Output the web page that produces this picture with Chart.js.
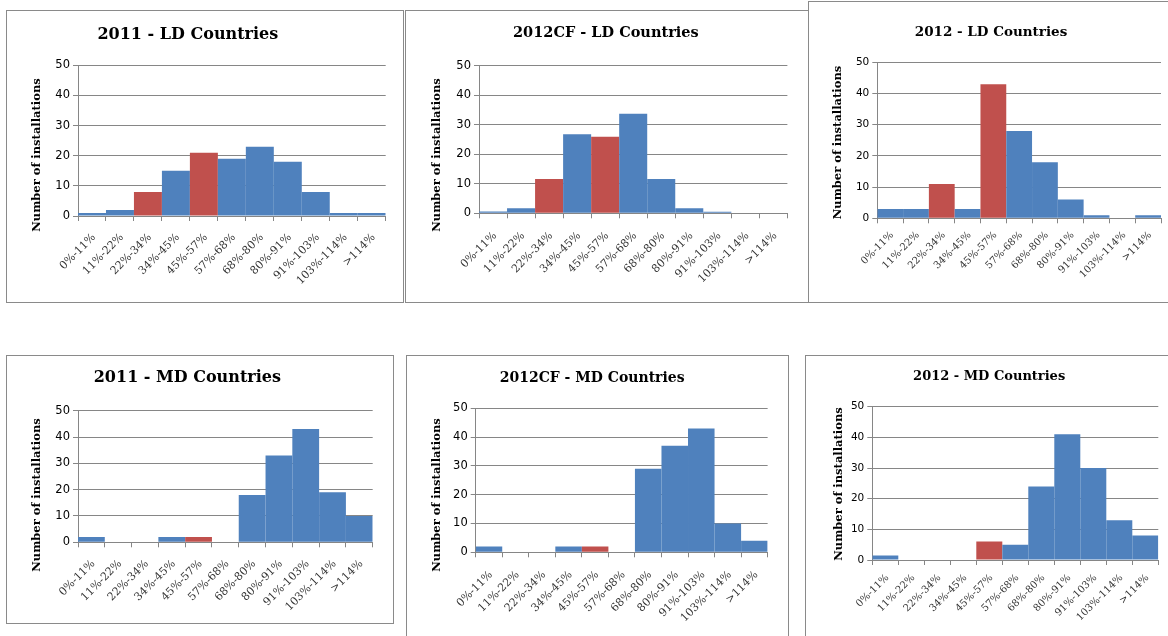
<!DOCTYPE html>
<html>
<head>
<meta charset="utf-8">
<script src="https://cdn.jsdelivr.net/npm/chart.js@4"></script>
<style>
  html, body { margin: 0; padding: 0; background: #ffffff; }
  body { position: relative; width: 1168px; height: 636px; overflow: hidden; }
  .frame { position: absolute; border: 1px solid #8a8a8a; box-sizing: border-box; }
  canvas { position: absolute; }
</style>
</head>
<body>
<script>
// Utilisation bins shared by every histogram
const bins = ['0%-11%', '11%-22%', '22%-34%', '34%-45%', '45%-57%', '57%-68%',
              '68%-80%', '80%-91%', '91%-103%', '103%-114%', '>114%'];

// Number of installations per bin
const ld2011   = [1, 2, 8, 15, 21, 19, 23, 18, 8, 1, 1];
const ld2012cf = [0.6, 1.7, 11.6, 26.8, 25.9, 33.7, 11.6, 1.7, 0.5, 0, 0];
const ld2012   = [3, 3, 11, 3, 43, 28, 18, 6, 1, 0, 1];
const md2011   = [2, 0, 0, 2, 2, 0, 18, 33, 43, 19, 10];
const md2012cf = [2, 0, 0, 2, 2, 0, 29, 37, 43, 10, 4];
const md2012   = [1.5, 0, 0, 0, 6, 5, 24, 41, 30, 13, 8];

// Y axis ticks
const yTicks = [0, 10, 20, 30, 40, 50];

// Bins drawn in the accent colour
const highlightedBins = ['22%-34%', '45%-57%'];

const BLUE = '#4F81BD';
const RED = '#C0504D';
const GRID = '#868686';
const AXIS_TITLE = 'Number of installations';

// Page layout of the six panels: frame box, plot area, title anchor and font sizes
const panels = [
  { title: '2011 - LD Countries',   values: ld2011,
    frame: [6, 10, 403, 302],   plot: [78, 65.3, 385.7, 216],
    titleAt: [188, 35],  titleSize: 16,   axisTitleAt: [37, 155],  labelSize: 11, tickSize: 11.5, labelGap: 10 },
  { title: '2012CF - LD Countries', values: ld2012cf,
    frame: [405, 10, 808, 302], plot: [479, 65.7, 787.7, 213.3],
    titleAt: [606, 33],  titleSize: 14.5, axisTitleAt: [437, 155], labelSize: 11, tickSize: 11.5, labelGap: 11 },
  { title: '2012 - LD Countries',   values: ld2012,
    frame: [808, 1, 1180, 302], plot: [877.3, 62.3, 1161, 218.3],
    titleAt: [991, 32],  titleSize: 13.5, axisTitleAt: [838, 142.5], labelSize: 10, tickSize: 10.5, labelGap: 6 },
  { title: '2011 - MD Countries',   values: md2011,
    frame: [6, 355, 393, 623],  plot: [78, 410.7, 372.7, 542.3],
    titleAt: [187.5, 378], titleSize: 16, axisTitleAt: [37, 495], labelSize: 11, tickSize: 11.5, labelGap: 10 },
  { title: '2012CF - MD Countries', values: md2012cf,
    frame: [406, 355, 788, 660], plot: [475.7, 408.3, 768.3, 552.3],
    titleAt: [592, 378], titleSize: 14,   axisTitleAt: [437, 495], labelSize: 11, tickSize: 11.5, labelGap: 11 },
  { title: '2012 - MD Countries',   values: md2012,
    frame: [805, 355, 1180, 660], plot: [872.3, 406.7, 1158.3, 560],
    titleAt: [989, 377], titleSize: 13,   axisTitleAt: [839, 484], labelSize: 10, tickSize: 10.5, labelGap: 7 }
];

// Rotated axis title drawn at a fixed spot beside the value axis
const sideTitle = {
  id: 'sideTitle',
  afterDraw(chart, args, opts) {
    const ctx = chart.ctx;
    ctx.save();
    ctx.font = opts.font;
    ctx.fillStyle = opts.color;
    ctx.textAlign = 'center';
    ctx.textBaseline = 'middle';
    ctx.translate(opts.x, opts.y);
    ctx.rotate(-Math.PI / 2);
    ctx.fillText(opts.text, 0, 0);
    ctx.restore();
  }
};

panels.forEach(p => {
  const [fl, ft, fr, fb] = p.frame;
  const frame = document.createElement('div');
  frame.className = 'frame';
  frame.style.left = fl + 'px';
  frame.style.top = ft + 'px';
  frame.style.width = (fr - fl + 1) + 'px';
  frame.style.height = (fb - ft + 1) + 'px';
  document.body.appendChild(frame);

  const [pl, pt, pr, pb] = p.plot;
  // The title is centred over [canvas left, plot right], so place the canvas accordingly
  const cLeft = Math.round(2 * p.titleAt[0] - pr);
  const cRight = Math.min(Math.ceil(pr) + 6, 1168);
  const cTop = ft + 2;
  const cBottom = Math.min(fb - 2, 636);
  const W = cRight - cLeft;
  const H = cBottom - cTop;

  const canvas = document.createElement('canvas');
  canvas.width = W;
  canvas.height = H;
  canvas.style.left = cLeft + 'px';
  canvas.style.top = cTop + 'px';
  canvas.style.width = W + 'px';
  canvas.style.height = H + 'px';
  document.body.appendChild(canvas);

  const lineH = p.titleSize * 1.2;
  const padTop = p.titleAt[1] - lineH / 2 - cTop;
  const titleGap = pt - (p.titleAt[1] + lineH / 2);
  const yAxisWidth = pl - cLeft;
  const xAxisHeight = cBottom - pb;

  new Chart(canvas, {
    type: 'bar',
    data: {
      labels: bins,
      datasets: [{
        data: p.values,
        backgroundColor: bins.map(b => highlightedBins.includes(b) ? RED : BLUE),
        borderWidth: 0,
        inflateAmount: 0,
        barPercentage: 1,
        categoryPercentage: 1
      }]
    },
    options: {
      responsive: false,
      animation: false,
      devicePixelRatio: 1,
      layout: { padding: { top: padTop, right: W - (pr - cLeft), left: 0, bottom: 0 } },
      plugins: {
        legend: { display: false },
        tooltip: { enabled: false },
        title: {
          display: true,
          text: p.title,
          color: '#000000',
          font: { family: '"DejaVu Serif"', weight: 'bold', size: p.titleSize, lineHeight: 1.2 },
          padding: { top: 0, bottom: titleGap }
        },
        sideTitle: {
          text: AXIS_TITLE,
          x: p.axisTitleAt[0] - cLeft,
          y: p.axisTitleAt[1] - cTop,
          font: 'bold 11.5px "DejaVu Serif"',
          color: '#000000'
        }
      },
      scales: {
        x: {
          grid: { display: true, offset: true, drawOnChartArea: false, drawTicks: true, tickLength: 5, color: GRID },
          border: { display: true, color: GRID },
          ticks: {
            autoSkip: false, minRotation: 45, maxRotation: 45,
            padding: p.labelGap, labelOffset: 2,
            color: '#333333',
            font: { family: '"DejaVu Serif"', size: p.labelSize }
          },
          afterFit(scale) { scale.height = xAxisHeight; }
        },
        y: {
          min: yTicks[0],
          max: yTicks[yTicks.length - 1],
          afterBuildTicks(scale) { scale.ticks = yTicks.map(v => ({ value: v })); },
          grid: { color: GRID, tickLength: 5 },
          border: { display: true, color: GRID },
          ticks: {
            padding: 3,
            color: '#000000',
            font: { family: '"DejaVu Sans"', size: p.tickSize }
          },
          afterFit(scale) { scale.width = yAxisWidth; }
        }
      }
    },
    plugins: [sideTitle]
  });
});
</script>
</body>
</html>
